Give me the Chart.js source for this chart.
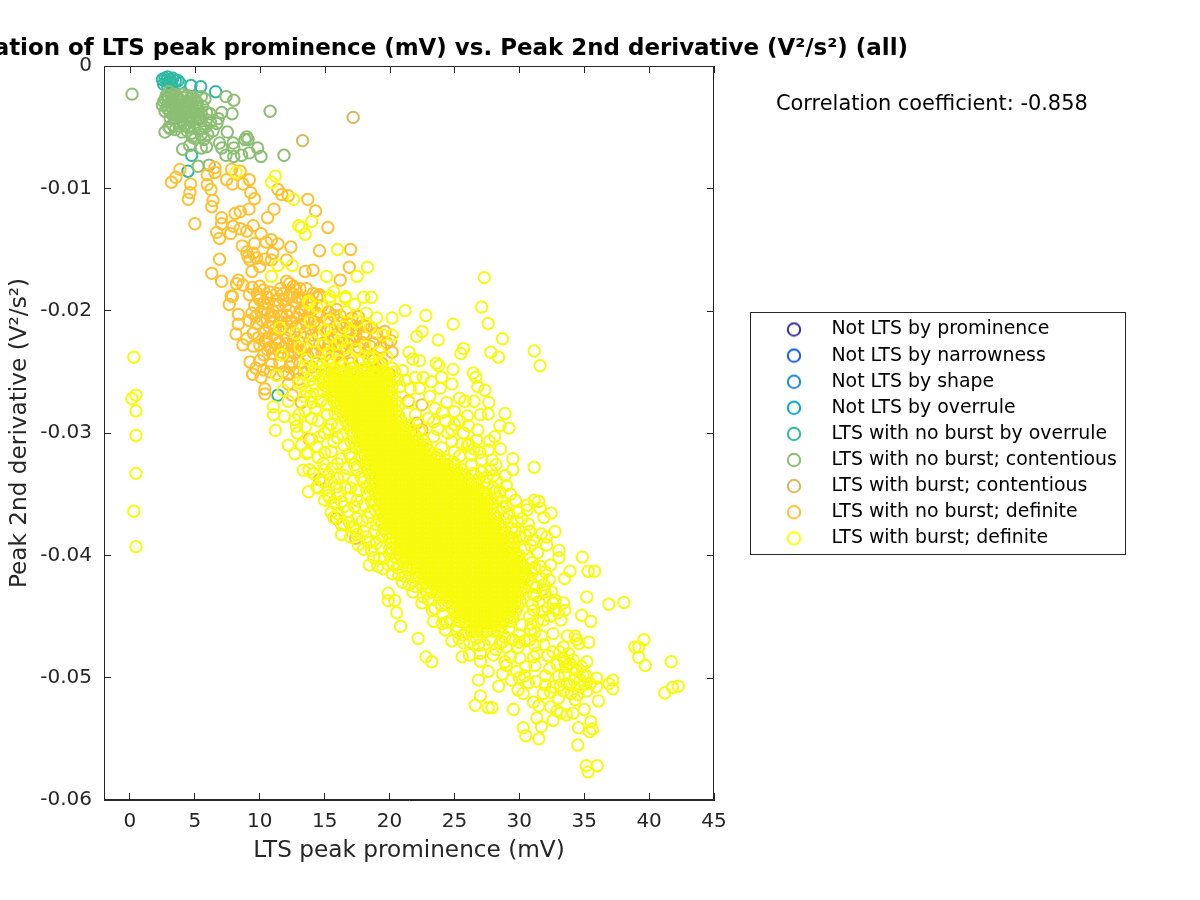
<!DOCTYPE html>
<html><head><meta charset="utf-8">
<style>html,body{margin:0;padding:0;background:#fff}canvas{display:block}</style>
<script src="https://cdn.jsdelivr.net/npm/chart.js@4"></script></head>
<body><canvas id="c" width="1200" height="900"></canvas>
<script>
const FONT='"DejaVu Sans"';
const legendLabels=['Not LTS by prominence','Not LTS by narrowness','Not LTS by shape','Not LTS by overrule','LTS with no burst by overrule','LTS with no burst; contentious','LTS with burst; contentious','LTS with no burst; definite','LTS with burst; definite'];
const seriesColors=['#3E2A9E','#0F5FE0','#1C88D8','#06A9C1','#2FB9A3','#8BBE73','#D4B857','#FFC130','#F8FA0D'];
const legendColors=['#3E2A9E','#0F5FE0','#1C88D8','#06A9C1','#2FB9A3','#8BBE73','#D4B857','#FFC130','#FFFF00'];
const xTickValues=[0,5,10,15,20,25,30,35,40,45];
const yTickValues=[0,-0.01,-0.02,-0.03,-0.04,-0.05,-0.06];
// all points below: [prominence mV, 2nd derivative in 1e-3 V^2/s^2]
const notLtsProminence=[],notLtsNarrowness=[],notLtsShape=[],notLtsOverrule=[];
const noBurstOverrule=[[2.5,-1.1],[2.7,-1],[2.9,-.9],[3.1,-1.1],[3.3,-1],[3.5,-1.2],[2.6,-1.5],[2.9,-1.6],[3.2,-1.4],[2.8,-1.2],[3,-1.3],[3.7,-1.2],[3.85,-1.4],[4.7,-1.6],[5.45,-1.7],[6.6,-2.1],[4.47,-8.6],[4.75,-7.3],[2.9,-2.6],[11.4,-26.9]];
const noBurstContentious=[[.16,-2.3],[10.8,-3.7],[7.4,-2.5],[8,-2.8],[7.87,-3.9],[7.07,-3.8],[7.5,-5.4],[9,-5.8],[8.86,-6],[9.1,-6],[9.84,-6.7],[10.1,-7.4],[11.87,-7.3],[4.06,-6.8],[4.6,-6.5],[5.25,-8.2],[6.1,-8.1],[5.5,-6.7],[5.9,-6.6],[6.9,-6.3],[7.07,-6.7],[7.4,-7.3],[7.95,-6.3],[8,-6.7],[8,-7.4],[8.6,-7.3],[9.2,-7.1],[2.7,-5.4],[3.08,-5.1],[4,-5.4],[4.75,-5.5],[5.5,-5.6],[6.4,-5.3],[6.7,-4.7],[6.8,-4.3],[6.16,-3.9],[5.78,-2.7],[5.5,-2.5],
[3,-2.1],[3.3,-2.3],[3.6,-2.4],[4,-2.3],[4.4,-2.4],[4.8,-2.5],[2.7,-2.7],[3,-2.7],[3.3,-2.8],[3.7,-2.8],[4,-2.9],[4.4,-2.9],[4.8,-3],[5.2,-3],[2.5,-3.2],[2.9,-3.2],[3.2,-3.3],[3.6,-3.3],[4,-3.4],[4.4,-3.4],[4.8,-3.5],[5.2,-3.5],[5.6,-3.3],[2.7,-3.7],[3.1,-3.8],[3.5,-3.8],[3.9,-3.9],[4.3,-3.9],[4.7,-4],[5.1,-4],[5.5,-3.9],[5.9,-3.8],[3.1,-4.3],[3.5,-4.3],[3.9,-4.4],[4.3,-4.4],[4.7,-4.5],[5.1,-4.6],[5.5,-4.5],[5.9,-4.4],[6.2,-4.6],[3.3,-4.8],[3.8,-4.9],[4.2,-4.9],[4.6,-5],[5,-5.1],[5.4,-5.1],[5.8,-5],[3.5,-5.2],[5,-5.9],[6,-5.6],
[2.8,-2.4],[3.2,-2.5],[3.7,-2.6],[4.1,-2.6],[4.6,-2.7],[5,-2.7],[2.6,-2.9],[3.1,-3],[3.5,-3],[3.9,-3.1],[4.3,-3.2],[4.7,-3.2],[5.1,-3.3],[2.9,-3.5],[3.3,-3.5],[3.7,-3.6],[4.1,-3.6],[4.5,-3.7],[4.9,-3.7],[5.3,-3.7],[3.3,-4],[3.7,-4.1],[4.1,-4.1],[4.5,-4.2],[4.9,-4.3],[5.3,-4.3],[3,-5],[4.4,-5.3],[4.8,-5.8],[5.7,-6],[3.9,-4.7]];
const burstContentious=[[17.2,-4.2],[13.3,-6.1]];
const noBurstDefinite=[[3.85,-8.45],[3.54,-9.1],[3.2,-9.5],[4.67,-9.65],[4.62,-10.35],[4.5,-10.9],[5,-12.9],[5.96,-8.9],[6.55,-8.3],[6.55,-8.7],[5.96,-9.7],[6.24,-10.1],[6.4,-11],[6.3,-11.5],[7.83,-8.45],[8.5,-8.6],[7.45,-9.3],[7.9,-9.65],[8.7,-9.65],[9.2,-9.3],[9.3,-10.35],[9.6,-10.85],[9.17,-11.7],[8.5,-11.9],[8.1,-12.05],[7.06,-12.4],[7.06,-12.9],[6.68,-13.6],[6.9,-14.1],[7.76,-13.7],[7.96,-13.1],[8.5,-13.3],[9,-13.5],[9.5,-13.05],[10.1,-13.7],[10.6,-12.4],[11.1,-11.7],[11.4,-10.1],[11.7,-10.5],[12.2,-10.6],[13.7,-10.9],[14.3,-11.85],[15.25,-13.2],[8.65,-14.7],[9.6,-14.5],[10.5,-14.4],[10.9,-14.2],[11.4,-14.55],[12.4,-14.8],[14.6,-15.1],[17,-15],[6.9,-15.8],[6.3,-16.95],[7.06,-17.6],[8.35,-17.5],[8.2,-17.8],[8.7,-17.9],[9.1,-15.6],[9.25,-15.85],[9,-15.2],[9.5,-15.3],[9.76,-15.7],[9.4,-16.8],[10,-16.4],[10.4,-15.8],[11,-15.3],[10.9,-15.85],[12.07,-15.85],[13.5,-16.8],[14.1,-16.7],[16.9,-16.45],[16.2,-17.5],[12.07,-17.6],[12.3,-17.8],[12.6,-18],[13.1,-18.2],[13.6,-18.2],[12.8,-18.3],[10,-18],[10.3,-18.3],[9.8,-18.6],[7.8,-18.8],[9.2,-18.7],[11.8,-18.6],[14.6,-18.85],
[7.9,-18.85],[7.65,-19.5],[8.35,-20.3],[8.35,-21.1],[8.17,-21.9],[8.7,-22.8],[9.25,-24.2],[9.45,-25.2],[10.3,-24.85],[10.1,-25.45],[10.4,-26.4],[10.4,-26.8],[9.5,-21.85],[9.4,-20.2],[9.76,-21.05],[10.8,-23],[10.65,-19.4],[10,-19.1],[11,-20],[11,-21],[12.07,-22.7],[11.8,-19.1],[12.3,-18.9],[11.3,-18.6],[12.3,-20],[12.07,-21],[12.6,-22.4],[11,-23.5],[11.55,-24.3],[12.3,-24.6],[13.1,-24.3],[14.1,-18.6],[14.6,-18.7],[16.2,-21],[18,-21.2],[19,-21.85],[19.65,-21.7],[20.1,-22.45],[20.2,-23.4],[19.8,-22.65],[18.75,-22.65],[18.2,-21.3],[16.7,-21],[15.7,-22.4],[15.15,-23.2],[21.45,-27.4],[22.5,-27.7],[22.1,-29.2],[22.5,-29.75],
[10.6,-18.9],[10.4,-19.9],[10.8,-20.5],[11.4,-19.6],[11.7,-20.4],[12.8,-19.3],[13.2,-19.9],[12.8,-20.6],[13.4,-20.7],[13.9,-19.8],[14.4,-20.2],[14.8,-19.6],[15.3,-20.1],[15.9,-19.9],[11.5,-21.6],[10.4,-21.8],[9.9,-22.2],[10.4,-22.5],[11.3,-22.3],[11.8,-23],[12.4,-23.3],[12.9,-22.9],[13.4,-22.2],[13.9,-21.5],[14.5,-21.2],[15.2,-21.6],[13.6,-23],[14.1,-23.4],[14.6,-22.8],[12.2,-25.2],[12.8,-25],[13.4,-25.1],[11.3,-25.2],[10.9,-24.4],[10.3,-23.6],[15.9,-23.6],[16.6,-23.3],[16.9,-22.4],[17.4,-22.1],[17.6,-23],[18.2,-23.4],[18.8,-24],[19.4,-24.3],[16.2,-20.4],[17.1,-20.6],[17.6,-20.5],[12.2,-26],[12.5,-26.9],[13.2,-27.5],[13.8,-30.5],[14.6,-33.8],[15.9,-37],[17.4,-38.6],
[9.4,-18.1],[9.9,-18.9],[10.3,-19.4],[10.8,-18.5],[11.2,-19.2],[11.6,-18.2],[12,-19.6],[12.5,-18.6],[12.9,-18.9],[13.3,-19.2],[9.6,-19.6],[10.1,-20.1],[10.6,-20.2],[11.1,-20.5],[11.6,-20.9],[12.1,-20.4],[12.5,-20.9],[13,-20.3],[13.5,-20],[14,-19.3],[14.4,-18.9],[9.2,-20.8],[9.7,-20.5],[10.2,-20.8],[10.7,-21.3],[11.2,-21.5],[11.8,-21.3],[12.3,-21.6],[12.8,-21.3],[13.2,-21.1],[13.7,-20.6],[14.2,-20.9],[14.7,-20.5],[15.2,-20.7],[15.7,-20.4],[9,-22.3],[9.5,-22.9],[10,-22.8],[10.5,-22.3],[11,-22],[11.5,-22.6],[12,-22.2],[12.5,-22.9],[13,-22.5],[13.5,-21.8],[14,-22],[14.5,-22],[15,-22.6],[15.5,-21.6],[16,-21.9],[16.4,-21.4],[17,-21.1],[17.5,-21.5],[18,-21.9],[18.6,-21.4],[10.6,-23.2],[11.2,-23.1],[11.6,-23.6],[12.2,-23.7],[12.7,-23.5],[13.2,-23.3],[13.7,-23.7],[14.3,-23.4],[14.8,-23.5],[15.3,-22.8],[15.8,-22.9],[16.3,-23],[16.8,-22.7],[17.3,-22.5],[17.9,-22.6],[18.5,-22.9],[19.3,-23],[10,-24.1],[9.7,-24.7],[10.8,-25],[11.8,-25],[12.5,-24.2],[13,-25.6],[14,-24.6],[14.8,-24.4],[15.6,-24.3],[16.3,-24.2],[17,-24.3],[17.9,-24],[19,-24.6],[20,-25.2]];
const burstDefinite=[[.3,-23.8],[.46,-26.9],[.15,-27.2],[.46,-28.2],[.46,-30.2],[.46,-33.3],[.3,-36.4],[.46,-39.3],
[11.2,-9],[10.9,-9.5],[8.17,-8.7],[12.6,-10.9],[13,-13.05],[13.2,-13.2],[14,-12.7],[13.5,-13.75],[16,-15],[11.4,-16.3],[12.5,-16.3],[10.9,-17.2],[15.15,-17.2],[17.5,-17.2],[18.3,-16.45],[15.7,-18.45],[16.6,-18.85],[18,-18.9],[18.6,-18.9],[13.75,-19.25],[15.4,-18.85],
[11.55,-21.4],[12.8,-21.85],[11.7,-23.6],[11.3,-25.3],[11.8,-26.5],[12.2,-27.4],[11.05,-27.85],[11.05,-28.5],[11.9,-28.65],[11.2,-29.8],[12.84,-29.45],[12.2,-31],[12.7,-31.7],[13.6,-31.7],[13.35,-33.05],[14.1,-33.3],[13.75,-34.8],[14.4,-34.4],[15.4,-35.35],[15.7,-36.9],[16.3,-37.5],[16.3,-38.3],[17.5,-38.3],[17.6,-39.15],[18.45,-38.95],[18.45,-40.8],[19.25,-40.25],[19.1,-40.9],[20.3,-40.7],
[13.8,-19.4],[14.4,-19.7],[15.4,-19.1],[16.6,-19],[17.3,-19.5],[16.65,-20.1],[18.2,-20.2],[19,-20.6],[20.2,-20.6],[15.4,-20.8],[13.9,-20.9],[15,-21.6],[17,-21.7],[16.3,-22.5],[14.1,-22.5],[13.1,-23],[14.4,-24.2],[18.75,-23.8],[20.2,-24.7],
[27.3,-17.3],[27.1,-19.7],[27.6,-21.05],[28.7,-22.3],[27.8,-23.4],[28.4,-23.8],[31.15,-23.3],[31.6,-24.5],[21.2,-20],[22.8,-20.4],[24.9,-21.1],[22.5,-21.7],[22.1,-22.1],[23.75,-22.4],[25.7,-23.1],[25.5,-23.5],[21.5,-23.4],[21.8,-23.95],[22.3,-24.1],[23.6,-24.3],[23.8,-24.5],[24.9,-24.8],[26.45,-25.1],[26.65,-25.45],[26.8,-26.2],[27.35,-26.5],[24,-25.45],[24.8,-26],[22,-25.45],[22.6,-25.45],[22.3,-26.35],[21.6,-26.4],[23.2,-25.8],[23.9,-26.35],[23.1,-27],[24.4,-27.5],[25.4,-27.15],[25.8,-27.4],[26.5,-27.4],[27.65,-27.5],[28.9,-28.4],[27.6,-28.45],[27,-28.5],[26,-28.6],[25,-28.25],[24.1,-28.3],[23.4,-29.1],[25.4,-29],[28.5,-29.4],[29.2,-29.6],[26.8,-29.75],[26.06,-29.4],[24.8,-29.75],[28.1,-30.3],[27.7,-30.65],[28.55,-31.3],[26.1,-30.9],[25.55,-30.9],[29.5,-32.1],[29.5,-33],[28.9,-33.5],[31.15,-32.8],[27.8,-33],[26.95,-31.6],[27.1,-32.2],[28.1,-34.85],[28.76,-36.15],[30.6,-35.9],[30.6,-36.3],[31.15,-35.5],[31.5,-35.6],[31.6,-36.15],[32.45,-36.55],[31.9,-36.9],[29.4,-37.25],[29.85,-37.25],[30.7,-37.45],[30.8,-38],[32.75,-38.05],[31.7,-38.25],[29.5,-38.6],[31.1,-38.75],[32.1,-38.5],
[34.85,-40.15],[35.3,-41.3],[35.8,-41.3],[33.9,-41.3],[33.5,-41.9],[33.05,-39.6],[33.05,-40.2],[32.4,-40.8],[32,-41.35],[32.3,-42],[30.8,-38.05],[32.1,-39.15],[35.2,-43.4],[36.9,-44],[38.05,-43.85],[34.8,-44.9],[35.5,-45.4],[33.4,-43.9],[32.75,-43.65],[33.2,-45.3],[32.6,-46.4],[33.7,-46.6],[34.3,-46.6],[35.35,-47.1],[34.6,-47.2],[39.6,-46.9],[38.9,-47.5],[39.2,-47.5],[39.2,-48.35],[39.7,-49],[41.7,-48.7],[42.25,-50.7],[41.8,-50.8],[41.2,-51.25],[37.2,-50.2],[37.2,-50.9],[36.9,-50.5],[35.95,-50.05],[36.1,-51.9],[35,-52.6],[34.15,-52.9],[35.5,-53.6],[35.65,-54.2],[35.4,-54.4],[34.55,-54.1],[34.5,-55.5],[35.15,-57.2],[36,-57.2],[35.3,-57.7],
[32.6,-53.5],[31.7,-54],[31.35,-53.3],[30.3,-54.1],[30.5,-54.75],[31.5,-55],[29.55,-52.6],[27.9,-52.45],[27.6,-52.45],[26.6,-52.25],[27,-51.5],[26.85,-50.2],[28.4,-50.7],[29.4,-50.2],[27.6,-49.5],[25.6,-48.3],[26.15,-48.15],[27,-48.65],[23.25,-48.7],[22.8,-48.3],[22.2,-46.8],[20.85,-45.8],[20.55,-44.7],[19.9,-43.7],[20.4,-43.7],[19.9,-43.1],[22.5,-43.9],[24.05,-45.6],[25.35,-46.8],[25.7,-47.15],[26.85,-47.35],[28,-48.15],[29,-47.5],[30.05,-48.4],[30.5,-49.1],[31.35,-48],[31.9,-47.3],[32.6,-47.9],[33.4,-48.45],[33.9,-48.85],[35.2,-48.7],[34.4,-49.4],[33.65,-50.5],[34.7,-50.75],[35.45,-50.5],[35.95,-50.75],[33.15,-50.6],[32.6,-50.75],[31.85,-51.3],[31.1,-52],[32.4,-52.4],[33.65,-53.05],[34.3,-51.8],[31.3,-50.3],[32,-49.85],[30.4,-49.85],[29.8,-49.5],[32.35,-49.25],[31.2,-49],[33.4,-47.5],[30.8,-46.9],[29.9,-47.5],[34.7,-50.2],[34.9,-49.8],[34.15,-48.55],[33.5,-48.7],[33.8,-48.05],[34.4,-46.9],
[31.85,-42.8],[31.35,-42.6],[30.7,-42],[30.3,-41.5],[29.8,-40.4],[29.6,-39],[31.85,-45.3],[32.35,-45],[31.1,-44.5],[30.85,-46.1],[28.5,-47.2],[27.8,-46.95],[20.7,-41.6],[21.2,-41.75],[22,-42.55],[22.6,-43.4],[23.5,-44.35],[19.5,-41.1],
[13,-28.5],[14,-27.5],[13.5,-29.5],[14.5,-29],[15.2,-28.5],[13.2,-31],[14,-30.5],[15,-30],[16,-29.5],[14.5,-32],[15.5,-31.5],[16.5,-31],[13.8,-33],[15,-33],[16,-32.5],[17,-32],[14.5,-34.5],[15.5,-34],[16.5,-33.5],[17.5,-33],[15,-35.5],[16,-35],[17,-34.5],[18,-34],[15.5,-36.5],[16.5,-36],[17.5,-35.5],[18.3,-35],[16.5,-37.5],[17.5,-37],[18.5,-36.5],[17,-38.5],[18,-38],[19,-37.5],[18,-39.5],[19,-39],[18.8,-40.2],[19.6,-40.2],[20.2,-41.5],[21,-42.2],[21.8,-43],[22.5,-42.3],[23.3,-44.5],[24,-44.1],[24.4,-45.5],[25.2,-46.2],[23.4,-45.4],[24.8,-47],
[21.5,-27.5],[22,-28.5],[23,-28.8],[22.3,-29.8],[23.4,-30.3],[24.5,-30],[24,-31.2],[25,-31.5],[26,-31],[25,-32.5],[26.3,-32.6],[27.1,-33.2],[27.3,-34],[28,-34.5],[28.3,-35.3],[29,-36],[28.9,-37],[29.4,-37.8],[30,-38.5],[30.4,-39.5],[30.8,-40.3],[31.2,-41],[31.3,-43.3],[31,-44],[30.8,-45],[30.2,-45.7],[30,-46.5],[29.5,-46.9],[28.7,-47.1],[29.3,-38.5],[30,-40],[30.5,-41.5],[31,-42.5],[31.5,-43.8],[32,-43],[32.2,-44.3],[33,-44.7],[33.5,-44.5],
[14.6,-24.6],[15.4,-23.9],[16.1,-24.1],[16.9,-23.8],[17.7,-24.2],[18.4,-23.9],[19.2,-24.4],[19.8,-25.1],[20.6,-25.6],[21,-24.9],[13.3,-26],[13.8,-25.7],[13.4,-27],
[13.5,-24.6],[14,-25.3],[14.6,-25.7],[15.1,-24.9],[15.8,-24.7],[16.4,-24.5],[17.2,-24.7],[18,-24.7],[18.7,-24.4],[19.5,-24.9],[20.4,-25],[20.8,-26.2],[21.2,-25.7],[15.3,-23.5],[16,-22.7],[16.7,-23],[17.4,-23.2],[18.1,-22.9],[19.2,-23.4],[19.8,-23.8],[14.9,-22.8],[15.5,-22.1],[16.5,-21.3],[17.5,-20.9],[18.5,-21.4],[19.5,-22],[20.2,-22],[13.6,-24],[14.2,-24.9],[13,-25.9],[13.6,-26.6],[14.2,-26],[14.4,-26.8],[13.9,-27],[14.7,-27.4],[14.3,-28],[15.2,-27.7],[15.5,-29.3],[15.8,-28.4],
[12.7,-28.9],[12.9,-30],[13.5,-28.2],[14,-28.8],[14.6,-30.3],[15.3,-29.7],[16,-30.4],[13.7,-31.6],[14.4,-31.1],[15,-31.6],[15.7,-30.7],[16.4,-30.1],[17,-30.7],[14.2,-33.3],[14.9,-32.5],[15.6,-32.9],[16.3,-32.1],[16.9,-31.7],[17.4,-31.2],[14.9,-34],[15.3,-33.4],[16,-33.7],[16.7,-32.9],[17.3,-32.6],[17.8,-32.1],[15.3,-35.1],[15.9,-34.4],[16.6,-34.5],[17.2,-33.9],[17.8,-33.6],[15.7,-35.7],[16.3,-35.6],[17,-35.3],[17.6,-34.7],[18.2,-34.5],[16,-36.6],[16.8,-36.4],[17.3,-36],[18,-35.9],[18.6,-35.6],[16.9,-37.3],[17.2,-37.7],[17.9,-37.2],[18.3,-36.9],[18.9,-36.3],[17.4,-38],[18.2,-38.5],[18.9,-38],[19.2,-37.1],[19.4,-38.4],[18.6,-39.6],[19.4,-39.4],[20,-39.9],[19.9,-40.8],[20.6,-41],[21.4,-41.2],[21.5,-42.4],[22.2,-41.9],[22.8,-42.9],[23,-43.6],[23.7,-43.2],[24.1,-44.8],[24.7,-45.3],[25.2,-45.8],[24.3,-46.1],[25.7,-46.5],
[23.5,-28],[24.3,-29],[25,-29.3],[25.7,-30],[24.8,-30.7],[23.7,-29.7],[26.7,-30.6],[25.4,-31.9],[26.3,-31.8],[26.5,-33.3],[27.5,-33.6],[28,-33.5],[26.9,-33.7],[26.5,-31.3],[27.6,-31.4],[27.9,-32.2],[28.2,-32.6],[28.3,-33.9],[29,-34.3],[28.5,-34.8],[29.3,-35],[28.7,-35.6],[29.7,-35.5],[29.2,-36.6],[29.9,-36.5],[30.2,-37],[29.7,-38],[30.5,-38.4],[30.9,-39.2],[31.4,-39.8],[31,-40.6],[31.6,-40.9],[30.9,-41.3],[31.7,-41.9],[31.9,-42.4],[32.5,-43],[31.1,-43.2],[32.6,-43.9],[31.8,-44.6],[32.8,-44.4],[31.4,-45.4],[30.9,-45.6],[31.2,-46.3],[31.7,-46.6],[30.4,-47],[29.3,-48.3],[28.9,-48.7],[30,-47.1],[29.2,-46],[28.9,-46.7],[28.2,-47.7],[27.3,-47.3],[26.7,-46.8],[26.2,-47.1],[27,-48],
[31.2,-47.4],[32.2,-48.2],[32.9,-48.9],[33.1,-47.9],[33.6,-49.1],[34.1,-49.2],[34.8,-49.1],[33,-49.9],[33.5,-49.8],[33.9,-50.6],[34.2,-50.2],[35.2,-49.9],[35,-50.5],[33.4,-51.1],[34,-51.3],[34.5,-51.4],[35.2,-51.1],[32.4,-51.2],[33,-51.7],[32,-50.6],[32.9,-52.7],[33.2,-52.9],[31.5,-52.3],[30.3,-51.3],[30.7,-50.4],[29.9,-51],[29,-49],[28.7,-49.7],[31.1,-48.3],[30,-50]];
const coreRowY=[-25,-25.4,-25.8,-26.2,-26.6,-27,-27.4,-27.8,-28.2,-28.6,-29,-29.4,-29.8,-30.2,-30.6,-31,-31.4,-31.8,-32.2,-32.6,-33,-33.4,-33.8,-34.2,-34.6,-35,-35.4,-35.8,-36.2,-36.6,-37,-37.4,-37.8,-38.2,-38.6,-39,-39.4,-39.8,-40.2,-40.6,-41,-41.4,-41.8,-42.2,-42.6,-43,-43.4,-43.8,-44.2,-44.6,-45,-45.4,-45.8,-46.2];
const coreRowX=[
[15.3,15.7,16.2,16.6,17,17.5,17.9,18.3,18.7,19.2,19.6],
[15.1,15.5,15.9,16.4,16.8,17.2,17.7,18.1,18.5,18.9,19.4,19.8],
[14.9,15.3,15.7,16.2,16.6,17,17.5,17.9,18.3,18.7,19.2,19.6,20],
[15.1,15.5,15.9,16.4,16.8,17.2,17.7,18.1,18.5,18.9,19.4,19.8,20.2],
[14.9,15.3,15.7,16.2,16.6,17,17.5,17.9,18.3,18.7,19.2,19.6,20],
[15.5,15.9,16.4,16.8,17.2,17.7,18.1,18.5,18.9,19.4,19.8,20.2],
[15.7,16.2,16.6,17,17.5,17.9,18.3,18.7,19.2,19.6,20,20.5],
[15.9,16.4,16.8,17.2,17.7,18.1,18.5,18.9,19.4,19.8,20.2,20.7],
[16.2,16.6,17,17.5,17.9,18.3,18.7,19.2,19.6,20,20.5],
[16.4,16.8,17.2,17.7,18.1,18.5,18.9,19.4,19.8,20.2,20.7],
[16.6,17,17.5,17.9,18.3,18.7,19.2,19.6,20,20.5,20.9],
[16.8,17.2,17.7,18.1,18.5,18.9,19.4,19.8,20.2,20.7,21.1,21.5],
[17,17.5,17.9,18.3,18.7,19.2,19.6,20,20.5,20.9,21.3,21.8],
[17.2,17.7,18.1,18.5,18.9,19.4,19.8,20.2,20.7,21.1,21.5,22],
[17.5,17.9,18.3,18.7,19.2,19.6,20,20.5,20.9,21.3,21.8,22.2,22.6],
[17.7,18.1,18.5,18.9,19.4,19.8,20.2,20.7,21.1,21.5,22,22.4,22.8],
[17.9,18.3,18.7,19.2,19.6,20,20.5,20.9,21.3,21.8,22.2,22.6,23],
[18.1,18.5,18.9,19.4,19.8,20.2,20.7,21.1,21.5,22,22.4,22.8,23.2,23.7],
[18.3,18.7,19.2,19.6,20,20.5,20.9,21.3,21.8,22.2,22.6,23,23.5,23.9,24.3],
[18.1,18.5,18.9,19.4,19.8,20.2,20.7,21.1,21.5,22,22.4,22.8,23.2,23.7,24.1,24.5,25],
[18.3,18.7,19.2,19.6,20,20.5,20.9,21.3,21.8,22.2,22.6,23,23.5,23.9,24.3,24.8,25.2,25.6],
[18.5,18.9,19.4,19.8,20.2,20.7,21.1,21.5,22,22.4,22.8,23.2,23.7,24.1,24.5,25,25.4,25.8],
[18.7,19.2,19.6,20,20.5,20.9,21.3,21.8,22.2,22.6,23,23.5,23.9,24.3,24.8,25.2,25.6,26.1],
[18.5,18.9,19.4,19.8,20.2,20.7,21.1,21.5,22,22.4,22.8,23.2,23.7,24.1,24.5,25,25.4,25.8,26.3,26.7],
[18.7,19.2,19.6,20,20.5,20.9,21.3,21.8,22.2,22.6,23,23.5,23.9,24.3,24.8,25.2,25.6,26.1,26.5,26.9],
[18.9,19.4,19.8,20.2,20.7,21.1,21.5,22,22.4,22.8,23.2,23.7,24.1,24.5,25,25.4,25.8,26.3,26.7,27.1,27.5],
[19.2,19.6,20,20.5,20.9,21.3,21.8,22.2,22.6,23,23.5,23.9,24.3,24.8,25.2,25.6,26.1,26.5,26.9,27.3,27.8],
[18.9,19.4,19.8,20.2,20.7,21.1,21.5,22,22.4,22.8,23.2,23.7,24.1,24.5,25,25.4,25.8,26.3,26.7,27.1,27.5,28],
[19.2,19.6,20,20.5,20.9,21.3,21.8,22.2,22.6,23,23.5,23.9,24.3,24.8,25.2,25.6,26.1,26.5,26.9,27.3,27.8],
[19.4,19.8,20.2,20.7,21.1,21.5,22,22.4,22.8,23.2,23.7,24.1,24.5,25,25.4,25.8,26.3,26.7,27.1,27.5,28],
[19.6,20,20.5,20.9,21.3,21.8,22.2,22.6,23,23.5,23.9,24.3,24.8,25.2,25.6,26.1,26.5,26.9,27.3,27.8,28.2],
[19.4,19.8,20.2,20.7,21.1,21.5,22,22.4,22.8,23.2,23.7,24.1,24.5,25,25.4,25.8,26.3,26.7,27.1,27.5,28,28.4],
[19.6,20,20.5,20.9,21.3,21.8,22.2,22.6,23,23.5,23.9,24.3,24.8,25.2,25.6,26.1,26.5,26.9,27.3,27.8,28.2,28.6],
[19.8,20.2,20.7,21.1,21.5,22,22.4,22.8,23.2,23.7,24.1,24.5,25,25.4,25.8,26.3,26.7,27.1,27.5,28,28.4,28.8],
[20,20.5,20.9,21.3,21.8,22.2,22.6,23,23.5,23.9,24.3,24.8,25.2,25.6,26.1,26.5,26.9,27.3,27.8,28.2,28.6,29.1],
[20.2,20.7,21.1,21.5,22,22.4,22.8,23.2,23.7,24.1,24.5,25,25.4,25.8,26.3,26.7,27.1,27.5,28,28.4,28.8,29.3],
[20,20.5,20.9,21.3,21.8,22.2,22.6,23,23.5,23.9,24.3,24.8,25.2,25.6,26.1,26.5,26.9,27.3,27.8,28.2,28.6,29.1,29.5],
[20.2,20.7,21.1,21.5,22,22.4,22.8,23.2,23.7,24.1,24.5,25,25.4,25.8,26.3,26.7,27.1,27.5,28,28.4,28.8,29.3,29.7],
[20.5,20.9,21.3,21.8,22.2,22.6,23,23.5,23.9,24.3,24.8,25.2,25.6,26.1,26.5,26.9,27.3,27.8,28.2,28.6,29.1,29.5,29.9],
[21.1,21.5,22,22.4,22.8,23.2,23.7,24.1,24.5,25,25.4,25.8,26.3,26.7,27.1,27.5,28,28.4,28.8,29.3,29.7,30.1],
[21.3,21.8,22.2,22.6,23,23.5,23.9,24.3,24.8,25.2,25.6,26.1,26.5,26.9,27.3,27.8,28.2,28.6,29.1,29.5,29.9,30.4],
[22,22.4,22.8,23.2,23.7,24.1,24.5,25,25.4,25.8,26.3,26.7,27.1,27.5,28,28.4,28.8,29.3,29.7,30.1],
[22.2,22.6,23,23.5,23.9,24.3,24.8,25.2,25.6,26.1,26.5,26.9,27.3,27.8,28.2,28.6,29.1,29.5,29.9,30.4],
[22.8,23.2,23.7,24.1,24.5,25,25.4,25.8,26.3,26.7,27.1,27.5,28,28.4,28.8,29.3,29.7,30.1],
[23,23.5,23.9,24.3,24.8,25.2,25.6,26.1,26.5,26.9,27.3,27.8,28.2,28.6,29.1,29.5,29.9,30.4],
[23.2,23.7,24.1,24.5,25,25.4,25.8,26.3,26.7,27.1,27.5,28,28.4,28.8,29.3,29.7,30.1],
[23.9,24.3,24.8,25.2,25.6,26.1,26.5,26.9,27.3,27.8,28.2,28.6,29.1,29.5,29.9],
[24.5,25,25.4,25.8,26.3,26.7,27.1,27.5,28,28.4,28.8,29.3,29.7,30.1],
[24.8,25.2,25.6,26.1,26.5,26.9,27.3,27.8,28.2,28.6,29.1,29.5,29.9],
[25,25.4,25.8,26.3,26.7,27.1,27.5,28,28.4,28.8,29.3,29.7],
[25.2,25.6,26.1,26.5,26.9,27.3,27.8,28.2,28.6,29.1,29.5],
[25.4,25.8,26.3,26.7,27.1,27.5,28,28.4,28.8,29.3],
[26.1,26.5,26.9,27.3,27.8,28.2,28.6],
[26.3,26.7,27.1,27.5,28,28.4]];
const coreBurstDefinite=coreRowY.flatMap((y,i)=>coreRowX[i].map(x=>[x,y]));
const seriesPoints=[notLtsProminence,notLtsNarrowness,notLtsShape,notLtsOverrule,noBurstOverrule,noBurstContentious,burstContentious,noBurstDefinite,burstDefinite.concat(coreBurstDefinite)];

const AXIS='#262626',TICK_FS=20,LEG_FS=18.9,TITLE_FS=23,LABEL_FS=23.2,NOTE_FS=20.9;
function ring(color){const k=document.createElement('canvas');k.width=k.height=16;const g=k.getContext('2d');g.strokeStyle=color;g.lineWidth=2;g.beginPath();g.arc(8,8,6.2,0,Math.PI*2);g.stroke();return k;}
const framePlugin={id:'frame',
 afterLayout(ch){
  const t=ch.titleBlock;t.left=-85;t.right=908;
  const l=ch.legend,p=l.options.labels.padding;
  l.left=766-p;l.top=329.5-p-LEG_FS/2;l.right=1125;l.bottom=560;
 },
 afterDatasetsDraw(ch){
  const c=ch.ctx,a=ch.chartArea,sx=ch.scales.x,sy=ch.scales.y;
  c.save();c.strokeStyle=AXIS;c.lineWidth=1;c.beginPath();
  c.rect(a.left+.5,a.top+.5,a.right-a.left-1,a.bottom-a.top-1);
  xTickValues.forEach(v=>{const x=Math.round(sx.getPixelForValue(v))+.5;c.moveTo(x,a.top);c.lineTo(x,a.top+7);});
  yTickValues.forEach(v=>{const y=Math.round(sy.getPixelForValue(v))+.5;c.moveTo(a.right,y);c.lineTo(a.right-7,y);});
  c.stroke();
  c.strokeStyle=AXIS;c.strokeRect(750.5,312.5,375,242);
  c.fillStyle='#000';c.font=NOTE_FS+'px '+FONT;c.textBaseline='middle';c.textAlign='left';
  c.fillText('Correlation coefficient: -0.858',776,105);
  c.restore();
 }};
new Chart(document.getElementById('c'),{type:'scatter',
 data:{datasets:legendLabels.map((label,i)=>({label,order:legendLabels.length-i,
   data:seriesPoints[i].map(p=>({x:p[0],y:p[1]/1000})),
   pointRadius:5.7,pointBorderWidth:2,pointBackgroundColor:'rgba(0,0,0,0)',pointBorderColor:seriesColors[i],pointHoverRadius:5.7,showLine:false}))},
 options:{responsive:false,animation:false,events:[],devicePixelRatio:1,
  layout:{padding:{left:0,right:486,top:0,bottom:0}},
  plugins:{tooltip:{enabled:false},
   title:{display:true,text:'Correlation of LTS peak prominence (mV) vs. Peak 2nd derivative (V²/s²) (all)',color:'#000',
     font:{family:FONT,size:TITLE_FS,weight:'bold',lineHeight:1.2},padding:{top:35,bottom:66-35-TITLE_FS*1.2}},
   legend:{display:true,position:'chartArea',align:'start',
     labels:{font:{family:FONT,size:LEG_FS},color:'#000',padding:26.1-LEG_FS,usePointStyle:true,pointStyleWidth:56,
       generateLabels:()=>legendLabels.map((text,i)=>({text,fontColor:'#000',pointStyle:ring(legendColors[i]),hidden:false,datasetIndex:i,lineWidth:0,strokeStyle:legendColors[i],fillStyle:'rgba(0,0,0,0)'}))}}},
  scales:{
   x:{type:'linear',position:'bottom',min:-2,max:45,afterFit:s=>{s.height=100;},
     grid:{drawOnChartArea:false,drawTicks:true,tickLength:-7,color:AXIS},border:{color:AXIS,width:1},
     afterBuildTicks:s=>{s.ticks=xTickValues.map(value=>({value}));},
     ticks:{color:AXIS,font:{family:FONT,size:TICK_FS},padding:17,maxRotation:0,callback:v=>String(v)},
     title:{display:true,text:'LTS peak prominence (mV)',color:AXIS,font:{family:FONT,size:LABEL_FS,lineHeight:1.2},padding:{top:0,bottom:35}}},
   y:{type:'linear',position:'left',min:-0.06,max:0,afterFit:s=>{s.width=104;},
     grid:{drawOnChartArea:false,drawTicks:true,tickLength:-7,color:AXIS},border:{color:AXIS,width:1},
     afterBuildTicks:s=>{s.ticks=yTickValues.map(value=>({value}));},
     ticks:{color:AXIS,font:{family:FONT,size:TICK_FS},padding:19,callback:v=>String(v)},
     title:{display:true,text:'Peak 2nd derivative (V²/s²)',color:AXIS,font:{family:FONT,size:LABEL_FS,lineHeight:1.2},padding:{top:6,bottom:0}}}
  }},
 plugins:[framePlugin]});
</script></body></html>
